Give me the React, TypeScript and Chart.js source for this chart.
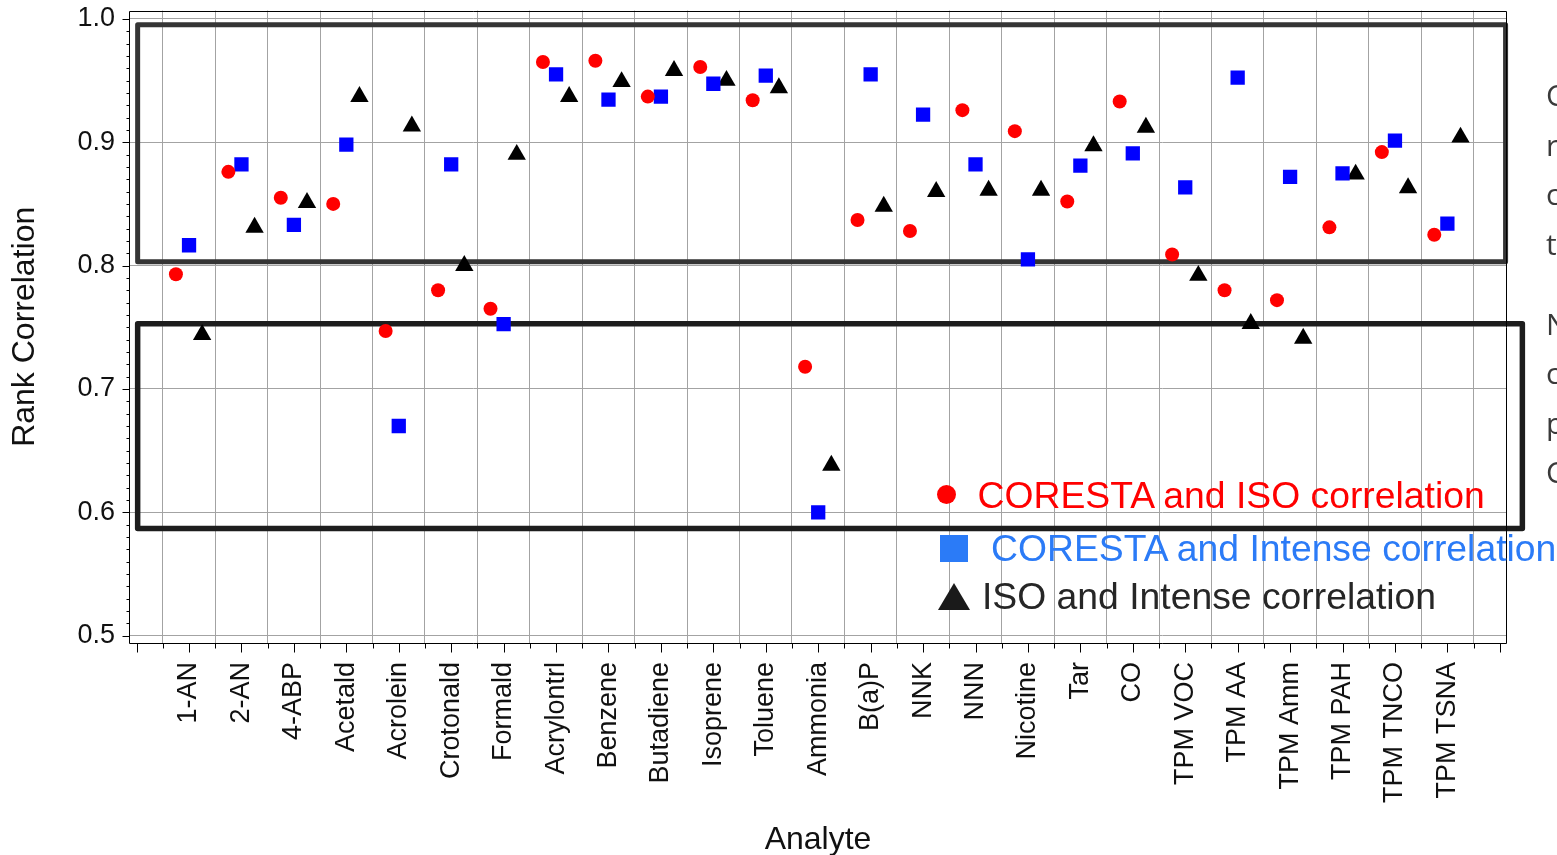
import React, { useEffect, useRef } from 'react';
import { Chart, registerables } from 'chart.js';

Chart.register(...registerables);

// ---------- data ----------
const categories: string[] = [
  '', '1-AN', '2-AN', '4-ABP', 'Acetald', 'Acrolein', 'Crotonald', 'Formald', 'Acrylontrl',
  'Benzene', 'Butadiene', 'Isoprene', 'Toluene', 'Ammonia', 'B(a)P', 'NNK', 'NNN',
  'Nicotine', 'Tar', 'CO', 'TPM VOC', 'TPM AA', 'TPM Amm', 'TPM PAH', 'TPM TNCO', 'TPM TSNA', '',
];

// values for analytes 1..25 (in category order)
const corestaIso: number[] = [
  0.793, 0.876, 0.855, 0.850, 0.747, 0.780, 0.765, 0.965, 0.966, 0.937, 0.961, 0.934,
  0.718, 0.837, 0.828, 0.926, 0.909, 0.852, 0.933, 0.809, 0.780, 0.772, 0.831, 0.892, 0.825,
];
const corestaIntense: number[] = [
  0.8165, 0.882, 0.833, 0.898, 0.670, 0.882, 0.7526, 0.955, 0.9345, 0.937, 0.9474, 0.954,
  0.600, 0.955, 0.9224, 0.882, 0.805, 0.881, 0.891, 0.8634, 0.9523, 0.872, 0.8747, 0.9013, 0.834,
];
const isoIntense: number[] = [
  0.744, 0.831, 0.851, 0.937, 0.913, 0.800, 0.890, 0.937, 0.949, 0.958, 0.950, 0.944,
  0.638, 0.848, 0.860, 0.861, 0.861, 0.897, 0.912, 0.792, 0.753, 0.741, 0.874, 0.863, 0.904,
];

const seriesLabels: string[] = [
  'CORESTA and ISO correlation',
  'CORESTA and Intense correlation',
  'ISO and Intense correlation',
];

const yTickValues: number[] = [0.5, 0.6, 0.7, 0.8, 0.9, 1.0];
const yTickLabels: string[] = ['0.5', '0.6', '0.7', '0.8', '0.9', '1.0'];

// highlighted regions (data units)
const upperRegion = { xFrom: 0.02, xTo: 26.11, yFrom: 0.8031, yTo: 0.9952 };
const lowerRegion = { xFrom: 0.02, xTo: 26.43, yFrom: 0.5869, yTo: 0.7529 };

const sideTextTop: string[] = ['C', 'r', 'c', 't'];
const sideTextBottom: string[] = ['N', 'c', 'p', 'C'];

// ---------- styles ----------
const FONT = "'Liberation Sans', Arial, Helvetica, sans-serif";
const GRID = '#a3a3a3';
const TEXT = '#111111';

const xTickValues: number[] = [];
for (let i = 0; i <= (categories.length - 1) * 2; i++) xTickValues.push(i / 2);

const toPoints = (vals: number[], offset: number) =>
  vals.map((v, i) => ({ x: i + 1 + offset, y: v }));

const decor = {
  id: 'decor',
  beforeDatasetsDraw(chart: any) {
    const ctx = chart.ctx as CanvasRenderingContext2D;
    const xs = chart.scales.x;
    const ys = chart.scales.y;
    const regions = [
      { r: upperRegion, color: '#353535', w: 5 },
      { r: lowerRegion, color: '#1d1d1d', w: 5.5 },
    ];
    ctx.save();
    ctx.lineJoin = 'round';
    for (const { r, color, w } of regions) {
      const x0 = xs.getPixelForValue(r.xFrom);
      const x1 = xs.getPixelForValue(r.xTo);
      const y0 = ys.getPixelForValue(r.yTo);
      const y1 = ys.getPixelForValue(r.yFrom);
      ctx.strokeStyle = color;
      ctx.lineWidth = w;
      ctx.strokeRect(x0, y0, x1 - x0, y1 - y0);
    }
    ctx.restore();

    // frame and ticks
    const { left, right, top, bottom } = chart.chartArea;
    ctx.save();
    ctx.strokeStyle = '#000';
    ctx.lineWidth = 1;
    const L = Math.round(left) + 0.5;
    const R = Math.round(right) - 0.5;
    const T = Math.round(top) + 0.5;
    const B = Math.round(bottom) + 0.5;
    ctx.beginPath();
    ctx.moveTo(L, T); ctx.lineTo(R, T); ctx.lineTo(R, B); ctx.lineTo(L, B); ctx.closePath();
    ctx.stroke();
    ctx.beginPath();
    for (const v of xTickValues) {
      const px = Math.round(xs.getPixelForValue(v)) + 0.5;
      const len = Number.isInteger(v) ? 9 : 5;
      ctx.moveTo(px, B);
      ctx.lineTo(px, B + len);
    }
    for (let k = 0; k <= 50; k++) {
      const v = 0.5 + k / 100;
      const py = Math.round(ys.getPixelForValue(v)) + 0.5;
      const len = k % 10 === 0 ? 7 : 3;
      ctx.moveTo(L, py);
      ctx.lineTo(L - len, py);
    }
    ctx.stroke();
    ctx.restore();
  },
};

export default function App() {
  const canvasRef = useRef<HTMLCanvasElement | null>(null);

  useEffect(() => {
    if (!canvasRef.current) return;
    const chart = new Chart(canvasRef.current, {
      type: 'scatter',
      data: {
        datasets: [
          {
            label: seriesLabels[0],
            data: toPoints(corestaIso, -0.25),
            pointStyle: 'circle',
            pointRadius: 7,
            backgroundColor: '#ff0000',
            borderWidth: 0,
            pointBorderWidth: 0,
          },
          {
            label: seriesLabels[1],
            data: toPoints(corestaIntense, 0),
            pointStyle: 'rect',
            pointRadius: 10.1,
            backgroundColor: '#0000ff',
            borderWidth: 0,
            pointBorderWidth: 0,
          },
          {
            label: seriesLabels[2],
            data: toPoints(isoIntense, 0.25),
            pointStyle: 'triangle',
            pointRadius: 10.6,
            backgroundColor: '#000000',
            borderWidth: 0,
            pointBorderWidth: 0,
          },
        ],
      },
      options: {
        animation: false,
        responsive: false,
        events: [],
        layout: { padding: { top: 9, right: 50, bottom: 0, left: 0 } },
        plugins: { legend: { display: false }, tooltip: { enabled: false } },
        scales: {
          x: {
            type: 'linear',
            min: -0.145,
            max: 26.137,
            afterBuildTicks: (s: any) => {
              s.ticks = xTickValues.map((v) => ({ value: v }));
            },
            afterFit: (s: any) => {
              s.height = 212;
              s.paddingLeft = 0; s.paddingRight = 0; s.paddingTop = 0; s.paddingBottom = 0;
            },
            ticks: {
              autoSkip: false,
              minRotation: 90,
              maxRotation: 90,
              padding: 10,
              color: TEXT,
              font: { family: FONT, size: 27 },
              callback: (v: any) => (Number.isInteger(v) ? categories[v] : ''),
            },
            grid: {
              color: (c: any) => (c.tick && !Number.isInteger(c.tick.value) ? GRID : 'rgba(0,0,0,0)'),
              tickColor: 'rgba(0,0,0,0)',
              tickLength: 9,
              lineWidth: 1,
            },
            border: { display: false },
            title: {
              display: true,
              text: 'Analyte',
              color: TEXT,
              font: { family: FONT, size: 32, lineHeight: 1 },
              padding: { top: 0, bottom: -1 },
            },
          },
          y: {
            type: 'linear',
            min: 0.4941,
            max: 1.0067,
            afterBuildTicks: (s: any) => {
              s.ticks = yTickValues.map((v) => ({ value: v }));
            },
            afterFit: (s: any) => {
              s.width = 129;
              s.paddingLeft = 0; s.paddingRight = 0; s.paddingTop = 0; s.paddingBottom = 0;
            },
            ticks: {
              padding: 7,
              color: TEXT,
              font: { family: FONT, size: 27 },
              callback: (_v: any, i: number) => yTickLabels[i],
            },
            grid: {
              color: GRID,
              tickColor: 'rgba(0,0,0,0)',
              tickLength: 7,
              lineWidth: 1,
            },
            border: { display: false },
            title: {
              display: true,
              text: 'Rank Correlation',
              color: TEXT,
              font: { family: FONT, size: 32, lineHeight: 1 },
              padding: { top: 9.5, bottom: 0 },
            },
          },
        },
      },
      plugins: [decor],
    } as any);
    return () => chart.destroy();
  }, []);

  const legendText: React.CSSProperties = {
    position: 'absolute',
    fontFamily: FONT,
    fontSize: 37.3,
    lineHeight: '37px',
    whiteSpace: 'nowrap',
  };
  const sideText: React.CSSProperties = {
    position: 'absolute',
    left: 1546,
    fontFamily: "'Open Sans', 'Liberation Sans', sans-serif",
    fontSize: 30,
    lineHeight: '49.5px',
    color: '#3a3a3a',
    whiteSpace: 'nowrap',
  };

  return (
    <div
      style={{
        position: 'fixed',
        left: 0,
        top: 0,
        width: 1557,
        height: 855,
        overflow: 'hidden',
        background: '#ffffff',
      }}
    >
      <canvas
        ref={canvasRef}
        width={1557}
        height={855}
        style={{ position: 'absolute', left: 0, top: 0, width: 1557, height: 855 }}
      />
      {/* legend */}
      <div
        style={{
          position: 'absolute', left: 936.5, top: 484.5, width: 19, height: 19,
          borderRadius: '50%', background: '#ff0000',
        }}
      />
      <div style={{ ...legendText, left: 977.5, top: 477, color: '#ff0000' }}>{seriesLabels[0]}</div>
      <div
        style={{
          position: 'absolute', left: 940, top: 535, width: 28, height: 27, background: '#2b7bf7',
        }}
      />
      <div style={{ ...legendText, left: 991, top: 529.5, color: '#2b7bf7' }}>{seriesLabels[1]}</div>
      <div
        style={{
          position: 'absolute', left: 938, top: 582.5, width: 0, height: 0,
          borderLeft: '16px solid transparent', borderRight: '16px solid transparent',
          borderBottom: '27px solid #1a1a1a',
        }}
      />
      <div style={{ ...legendText, left: 982, top: 578, color: '#262626' }}>{seriesLabels[2]}</div>
      {/* clipped side text */}
      <div style={{ ...sideText, top: 70.3 }}>
        {sideTextTop.map((t, i) => (
          <div key={i}>{t}</div>
        ))}
      </div>
      <div style={{ ...sideText, top: 298.6 }}>
        {sideTextBottom.map((t, i) => (
          <div key={i}>{t}</div>
        ))}
      </div>
    </div>
  );
}
